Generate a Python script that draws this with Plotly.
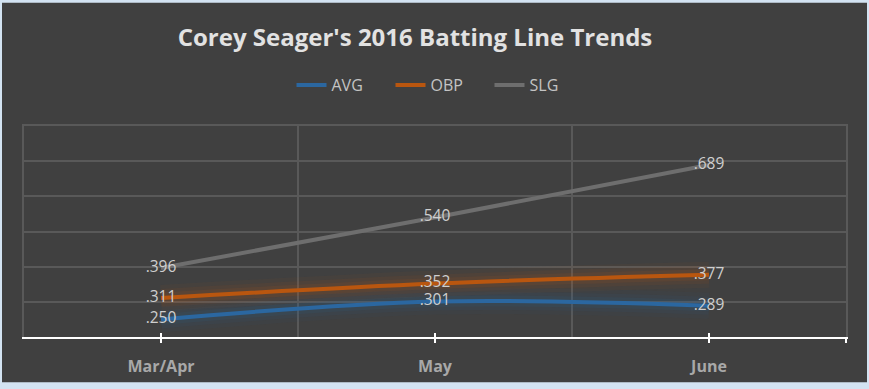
import plotly.graph_objects as go

months = ["Mar/Apr", "May", "June"]
avg = [0.250, 0.301, 0.289]
obp = [0.311, 0.352, 0.377]
slg = [0.396, 0.540, 0.689]
series_names = ["AVG", "OBP", "SLG"]
title_text = "Corey Seager's 2016 Batting Line Trends"

colors = {"AVG": "#2b67a0", "OBP": "#b9560f", "SLG": "#6e6e6e"}
glow = {"AVG": (43, 103, 160), "OBP": (197, 90, 17)}

W, H = 869, 389
ml, mr, mt, mb = 24, 23, 126, 49
pw, ph = W - ml - mr, H - mt - mb

def fmt(v):
    return f"{v:.3f}".lstrip("0")

fig = go.Figure()
data = {"AVG": avg, "OBP": obp, "SLG": slg}

# glow layers
for name in ["OBP", "AVG"]:
    r, g, b = glow[name]
    for w, a in [(26, 0.05), (18, 0.07), (11, 0.10)]:
        fig.add_trace(go.Scatter(x=months, y=data[name], mode="lines",
                                 line=dict(color=f"rgba({r},{g},{b},{a})", width=w, shape="spline"),
                                 showlegend=False, hoverinfo="skip"))

for name in series_names:
    fig.add_trace(go.Scatter(x=months, y=data[name], mode="lines", name=name,
                             line=dict(color=colors[name], width=4, shape="spline")))

for name in series_names:
    fig.add_trace(go.Scatter(x=months, y=data[name], mode="text",
                             text=[fmt(v) for v in data[name]], textposition="middle center",
                             textfont=dict(family="Open Sans", size=15.5, color="#cfcfcf"),
                             showlegend=False, hoverinfo="skip"))

# empty traces for tick overlay axes
fig.add_trace(go.Scatter(x=[], y=[], xaxis="x2", showlegend=False))
fig.add_trace(go.Scatter(x=[], y=[], xaxis="x3", showlegend=False))

fig.update_layout(
    width=W, height=H,
    margin=dict(l=ml, r=mr, t=mt, b=mb),
    paper_bgcolor="#d3e3f2",
    plot_bgcolor="rgba(0,0,0,0)",
    title=dict(text=title_text, x=415 / W, xref="container", xanchor="center",
               y=1 - 38 / H, yref="container", yanchor="middle",
               font=dict(family="Open Sans", size=24, color="#e2e2e2", weight="bold")),
    legend=dict(orientation="h", xref="container", x=440 / W, xanchor="center",
                yref="container", y=1 - 85 / H, yanchor="middle",
                entrywidth=54, entrywidthmode="pixels",
                font=dict(family="Open Sans", size=16, color="#c4c4c4"),
                bgcolor="rgba(0,0,0,0)"),
    xaxis=dict(type="category", categoryarray=months, range=[-0.5, 2.5],
               tickson="boundaries", showgrid=True, gridcolor="#595959", gridwidth=1.5,
               ticks="", showline=True, mirror=True, linecolor="#595959", linewidth=2,
               zeroline=False, ticklabelstandoff=14,
               tickfont=dict(family="Open Sans", size=16, color="#a8a8a8", weight="bold")),
    xaxis2=dict(overlaying="x", anchor="y", side="bottom", type="linear", range=[-0.5, 2.5],
                tickvals=[0, 1, 2, 2.5], ticks="outside", ticklen=4, tickwidth=2, tickcolor="#ffffff",
                showticklabels=False, showgrid=False, zeroline=False,
                showline=True, linecolor="#ffffff", linewidth=2),
    xaxis3=dict(overlaying="x", anchor="y", side="bottom", type="linear", range=[-0.5, 2.5],
                tickvals=[0, 1, 2, 2.5], ticks="inside", ticklen=4, tickwidth=2, tickcolor="#ffffff",
                showticklabels=False, showgrid=False, zeroline=False, showline=False),
    yaxis=dict(range=[0.2, 0.8], dtick=0.1, tick0=0.2, showgrid=True, gridcolor="#595959",
               gridwidth=1.5, showticklabels=False, zeroline=False, ticks="",
               showline=True, mirror=True, linecolor="#595959", linewidth=2),
    shapes=[dict(type="rect", xref="paper", yref="paper", layer="below",
                 x0=(2 - ml) / pw, x1=(W - 2 - ml) / pw,
                 y0=-(H - 3 - (H - mb)) / ph, y1=(H - mb - 1) / ph,
                 fillcolor="#404040", line=dict(width=0))],
)

fig.write_html("out.html", config={"displayModeBar": False},
               post_script="document.body.style.margin='0';document.body.style.overflow='hidden';")
